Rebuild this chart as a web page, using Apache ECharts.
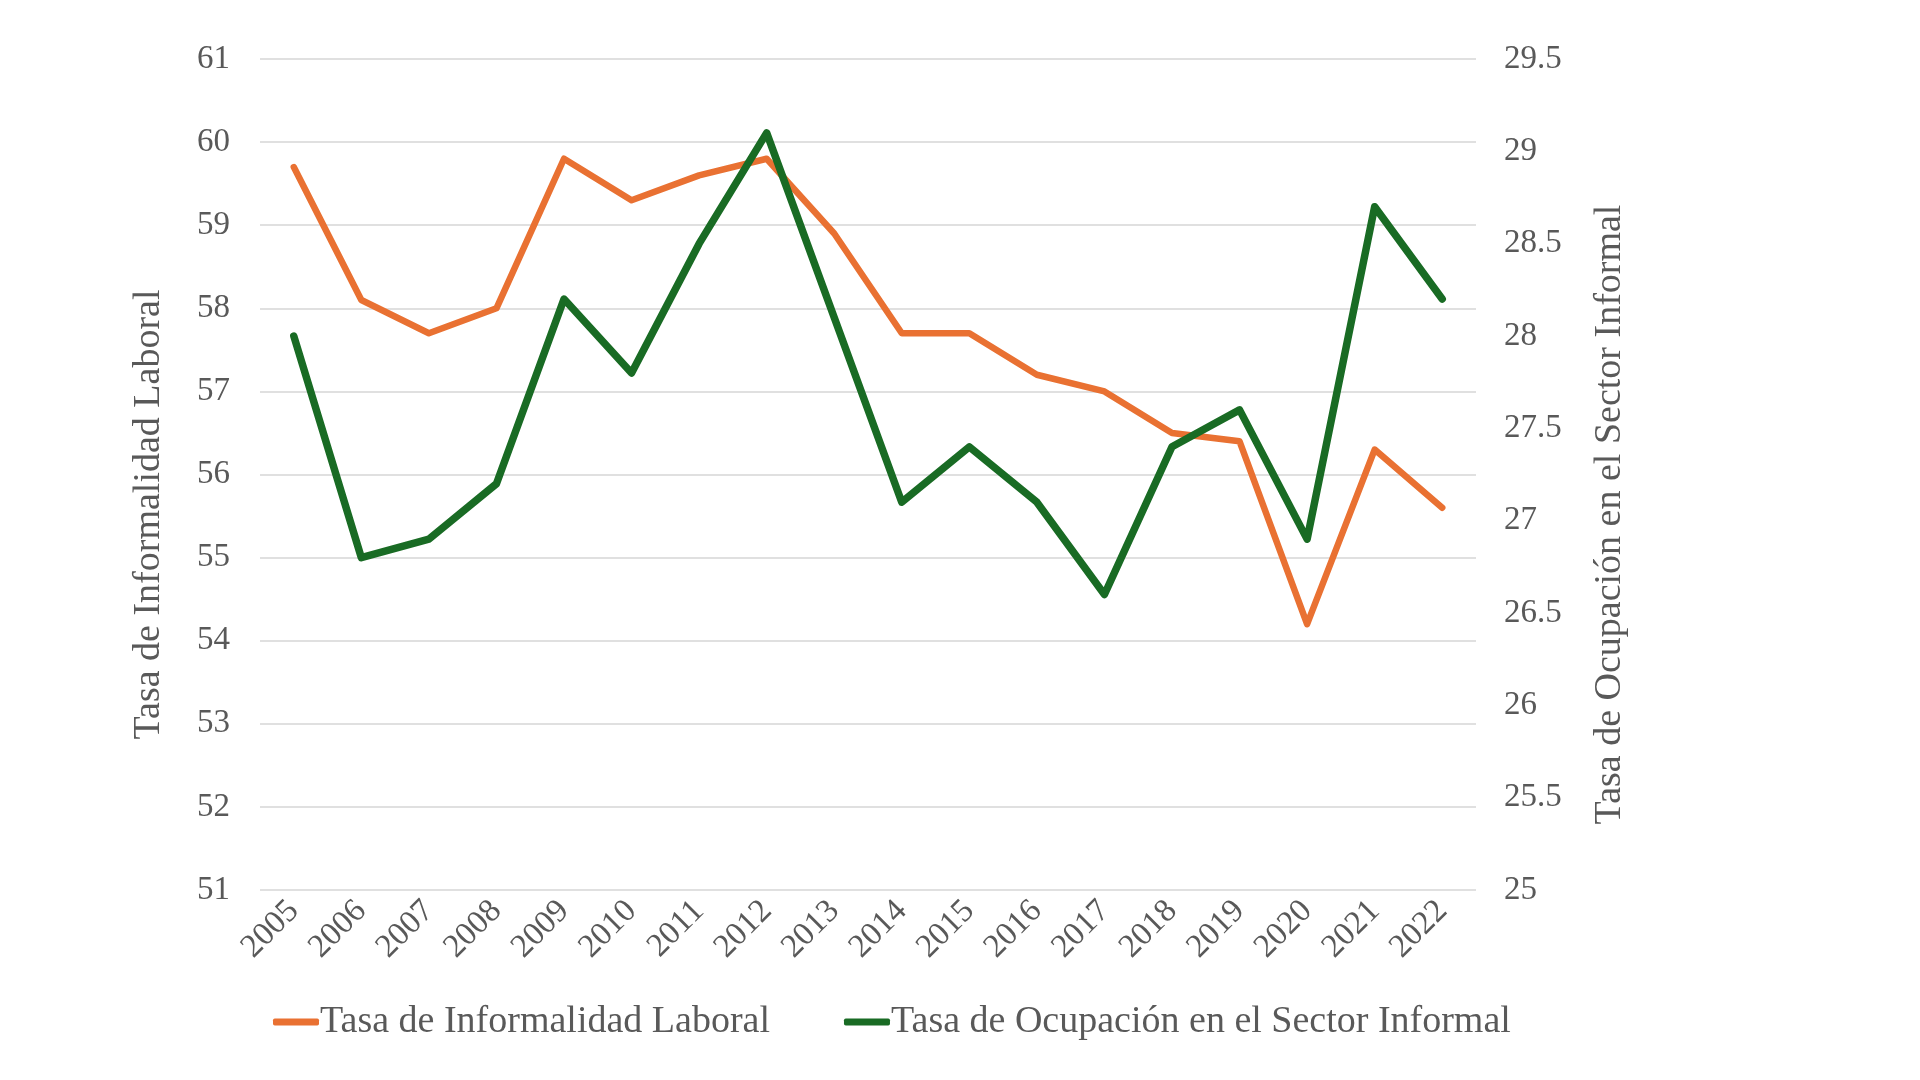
<!DOCTYPE html>
<html>
<head>
<meta charset="utf-8">
<title>Informalidad</title>
<script src="https://cdn.jsdelivr.net/npm/echarts@6/dist/echarts.min.js"></script>
<style>
    html, body { margin: 0; padding: 0; background: #ffffff; }
    #main { width: 1920px; height: 1080px; }
</style>
</head>
<body>
<div id="main"></div>
<script>
//datos
var years = ['2005','2006','2007','2008','2009','2010','2011','2012','2013','2014','2015','2016','2017','2018','2019','2020','2021','2022'];
var informalidad = [59.7, 58.1, 57.7, 58.0, 59.8, 59.3, 59.6, 59.8, 58.9, 57.7, 57.7, 57.2, 57.0, 56.5, 56.4, 54.2, 56.3, 55.6];
var ocupacion = [28.0, 26.8, 26.9, 27.2, 28.2, 27.8, 28.5, 29.1, 28.1, 27.1, 27.4, 27.1, 26.6, 27.4, 27.6, 26.9, 28.7, 28.2];
var seriesNames = ['Tasa de Informalidad Laboral', 'Tasa de Ocupación en el Sector Informal'];

var fontName = '"Liberation Serif", "DejaVu Serif", serif';
var textColor = '#595959';

var chart = echarts.init(document.getElementById('main'), null, { renderer: 'canvas' });

var option = {
    backgroundColor: '#ffffff',
    animation: false,
    color: ['#E97132', '#196B24'],
    textStyle: { fontFamily: fontName, color: textColor },
    grid: {
        left: 260,
        right: 444,
        top: 59,
        bottom: 190
    },
    //leyenda abajo
    legend: {
        data: seriesNames,
        bottom: 34,
        left: 268,
        icon: 'roundRect',
        itemWidth: 46,
        itemHeight: 7,
        itemGap: 74,
        textStyle: { fontFamily: fontName, fontSize: 38, color: textColor, padding: [0, 0, 0, -4] }
    },
    xAxis: {
        type: 'category',
        data: years,
        boundaryGap: true,
        axisLine: { show: false },
        axisTick: { show: false },
        axisLabel: {
            rotate: 45,
            margin: 16,
            fontFamily: fontName,
            fontSize: 33,
            color: textColor,
            interval: 0
        }
    },
    yAxis: [
        {
            type: 'value',
            min: 51,
            max: 61,
            interval: 1,
            name: 'Tasa de Informalidad Laboral',
            nameLocation: 'middle',
            nameRotate: 90,
            nameGap: 92,
            nameTextStyle: { fontFamily: fontName, fontSize: 38, color: textColor, padding: [0, 80, 0, 0] },
            axisLine: { show: false },
            axisTick: { show: false },
            axisLabel: { margin: 30, fontFamily: fontName, fontSize: 33, color: textColor },
            splitLine: { lineStyle: { color: '#e0e0e0', width: 2 } }
        },
        {
            type: 'value',
            min: 25,
            max: 29.5,
            interval: 0.5,
            name: 'Tasa de Ocupación en el Sector Informal',
            nameLocation: 'middle',
            nameRotate: 90,
            nameGap: 115,
            nameTextStyle: { fontFamily: fontName, fontSize: 38, color: textColor, padding: [0, 80, 0, 0] },
            axisLine: { show: false },
            axisTick: { show: false },
            axisLabel: { margin: 28, fontFamily: fontName, fontSize: 33, color: textColor },
            splitLine: { show: false }
        }
    ],
    series: [
        {
            name: seriesNames[0],
            type: 'line',
            yAxisIndex: 0,
            data: informalidad,
            showSymbol: false,
            symbol: 'none',
            lineStyle: { width: 6.5, cap: 'round', join: 'round' }
        },
        {
            name: seriesNames[1],
            type: 'line',
            yAxisIndex: 1,
            data: ocupacion,
            showSymbol: false,
            symbol: 'none',
            lineStyle: { width: 7.5, cap: 'round', join: 'round' }
        }
    ]
};

chart.setOption(option);
</script>
</body>
</html>
